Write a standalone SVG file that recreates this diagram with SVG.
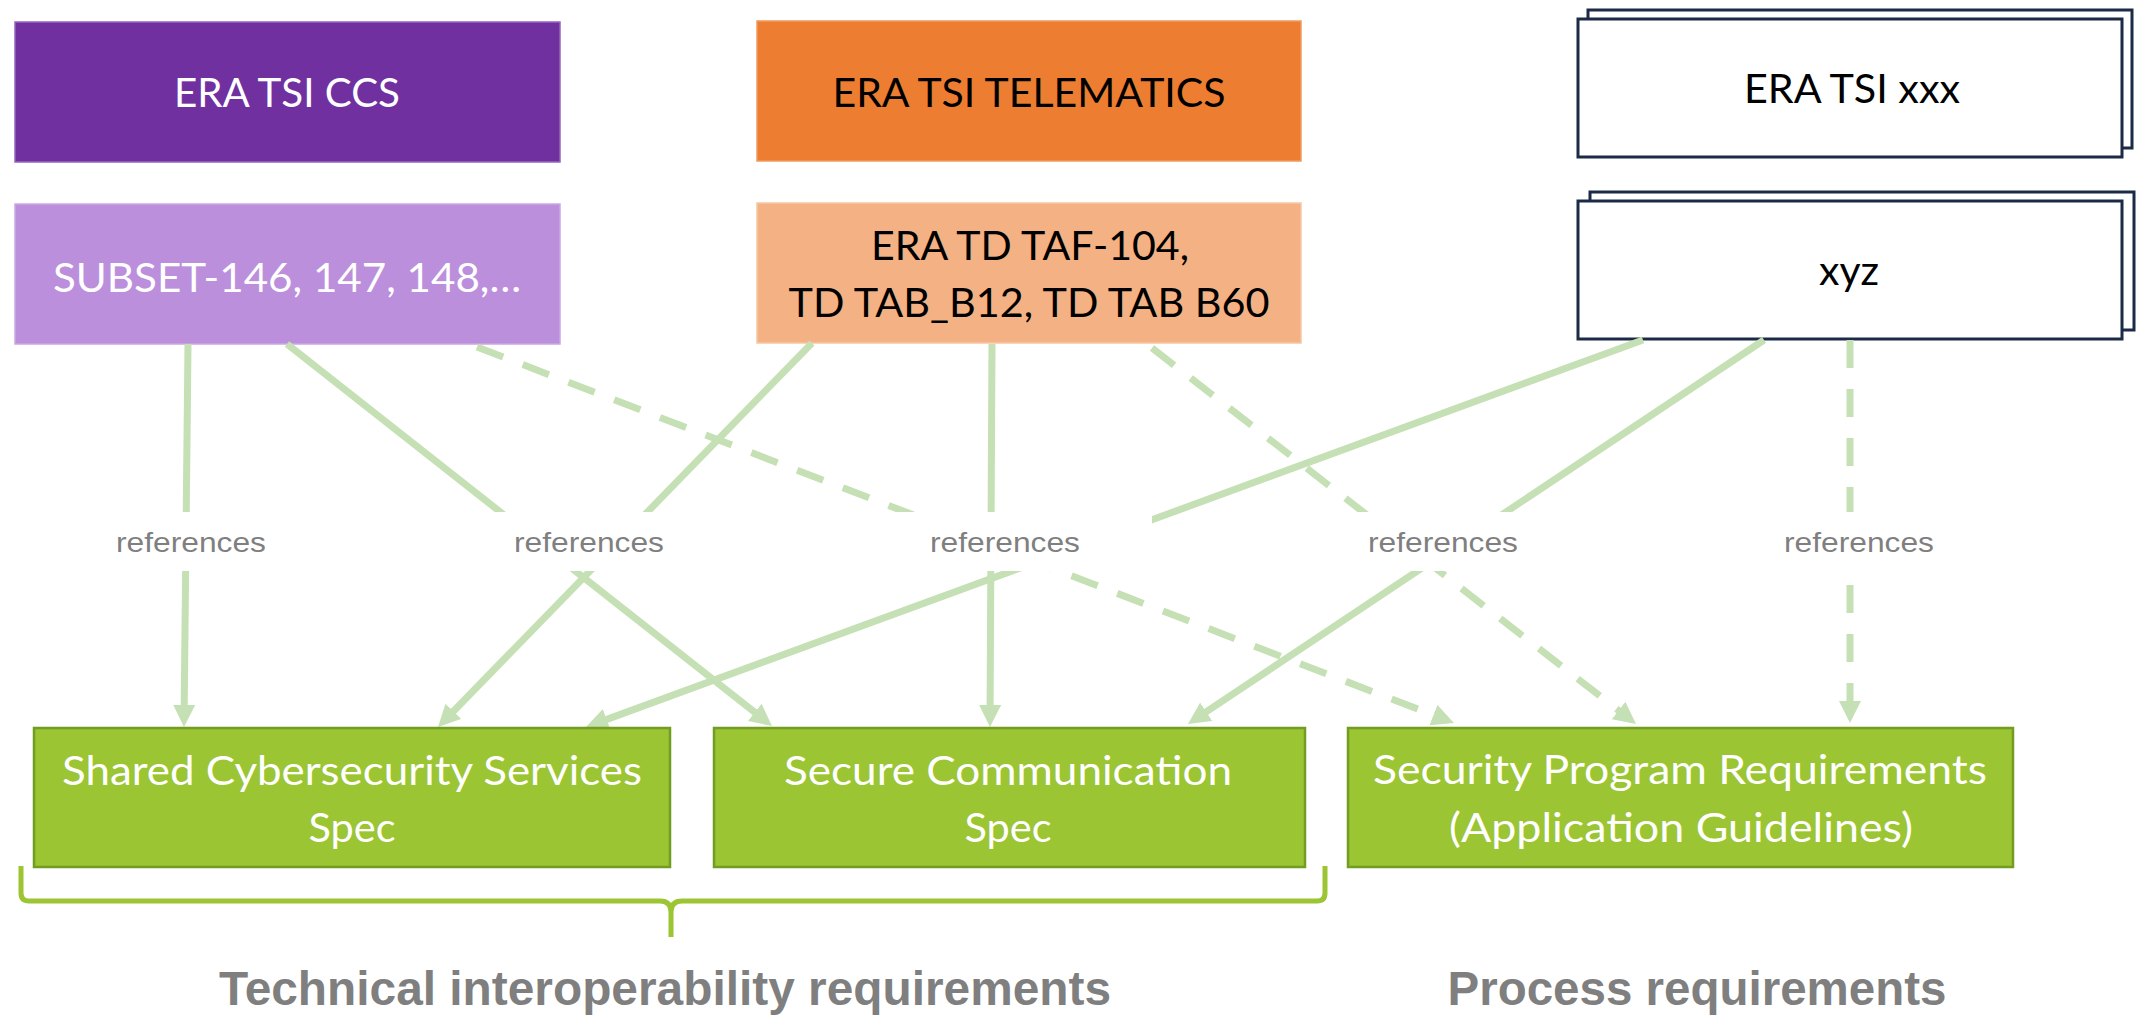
<svg xmlns="http://www.w3.org/2000/svg" width="2138" height="1022" viewBox="0 0 2138 1022">
<style>
.box{font-family:Lato,"Open Sans","Liberation Sans",sans-serif;font-size:40px;text-anchor:middle}
.w{fill:#FFFFFF}
.k{fill:#000000}
.lbl{font-family:"Liberation Sans",Arial,sans-serif;font-size:28px;fill:#7F7F7F;text-anchor:middle}
.foot{font-family:"Liberation Sans",Arial,sans-serif;font-size:48px;font-weight:bold;fill:#7F7F7F;text-anchor:middle}
.edge{fill:none;stroke:#C5E0B4;stroke-width:7}
.dash{stroke-dasharray:28 21}
.green{fill:#9BC532;stroke:#729C22;stroke-width:2.5}
.stack{fill:#FFFFFF;stroke:#1B2A47;stroke-width:3}
.lblbg{fill:#FFFFFF}
</style>
<defs>
<marker id="ah" markerUnits="userSpaceOnUse" markerWidth="22" markerHeight="22" viewBox="0 0 22 22" refX="2" refY="11" orient="auto">
<path d="M0,0 L22,11 L0,22 Z" fill="#C5E0B4"/>
</marker>
</defs>
<rect width="2138" height="1022" fill="#FFFFFF"/>

<g id="n-ccs">
<rect x="15" y="22" width="545" height="140" fill="#7030A0" stroke="#9466BC" stroke-width="1.5"/>
<text class="box w" x="287" y="107" textLength="226" lengthAdjust="spacingAndGlyphs">ERA TSI CCS</text>
</g>
<g id="n-subset">
<rect x="15" y="204" width="545" height="140" fill="#BC8FDC" stroke="#CBA8E5" stroke-width="1.5"/>
<text class="box w" x="287" y="292" textLength="468" lengthAdjust="spacingAndGlyphs">SUBSET-146, 147, 148,…</text>
</g>
<g id="n-telematics">
<rect x="757" y="21" width="544" height="140" fill="#ED7D31" stroke="#F09A5C" stroke-width="1.5"/>
<text class="box k" x="1029" y="107" textLength="393" lengthAdjust="spacingAndGlyphs">ERA TSI TELEMATICS</text>
</g>
<g id="n-td">
<rect x="757" y="203" width="544" height="140" fill="#F4B183" stroke="#F7C6A2" stroke-width="1.5"/>
<text class="box k" x="1030" y="260" textLength="318" lengthAdjust="spacingAndGlyphs">ERA TD TAF-104,</text>
<text class="box k" x="1029" y="317" textLength="481" lengthAdjust="spacingAndGlyphs">TD TAB_B12, TD TAB B60</text>
</g>
<g id="n-xxx">
<rect class="stack" x="1588" y="10" width="544" height="138"/>
<rect class="stack" x="1578" y="19" width="544" height="138"/>
<text class="box k" x="1852" y="103" textLength="216" lengthAdjust="spacingAndGlyphs">ERA TSI xxx</text>
</g>
<g id="n-xyz">
<rect class="stack" x="1590" y="192" width="544" height="138"/>
<rect class="stack" x="1578" y="201" width="544" height="138"/>
<text class="box k" x="1849" y="285" textLength="60" lengthAdjust="spacingAndGlyphs">xyz</text>
</g>

<g id="connectors">
<path class="edge" d="M188,344 L184.2,707" marker-end="url(#ah)"/>
<path class="edge" d="M287,344 L756.3,713.6" marker-end="url(#ah)"/>
<path class="edge dash" d="M477,347 L1435.3,715.8" marker-end="url(#ah)"/>
<path class="edge" d="M812,343 L452,712.7" marker-end="url(#ah)"/>
<path class="edge" d="M992,344 L990.1,707" marker-end="url(#ah)"/>
<path class="edge dash" d="M1152,348 L1620.2,711.7" marker-end="url(#ah)"/>
<path class="edge" d="M1643,340 L604.8,720.1" marker-end="url(#ah)"/>
<path class="edge" d="M1764,340 L1204.6,712.9" marker-end="url(#ah)"/>
<path class="edge dash" d="M1850,340 L1850,703" marker-end="url(#ah)"/>
</g>

<g id="labels">
<g id="l1"><rect class="lblbg" x="44" y="512" width="294" height="59"/><text class="lbl" x="191" y="552" textLength="150" lengthAdjust="spacingAndGlyphs">references</text></g>
<g id="l2"><rect class="lblbg" x="442" y="512" width="294" height="59"/><text class="lbl" x="589" y="552" textLength="150" lengthAdjust="spacingAndGlyphs">references</text></g>
<g id="l3"><rect class="lblbg" x="858" y="512" width="294" height="59"/><text class="lbl" x="1005" y="552" textLength="150" lengthAdjust="spacingAndGlyphs">references</text></g>
<g id="l4"><rect class="lblbg" x="1296" y="512" width="294" height="59"/><text class="lbl" x="1443" y="552" textLength="150" lengthAdjust="spacingAndGlyphs">references</text></g>
<g id="l5"><rect class="lblbg" x="1712" y="512" width="294" height="59"/><text class="lbl" x="1859" y="552" textLength="150" lengthAdjust="spacingAndGlyphs">references</text></g>
</g>

<g id="n-shared">
<rect class="green" x="34" y="728" width="636" height="139"/>
<text class="box w" style="font-size:41px" x="352" y="785" textLength="580" lengthAdjust="spacingAndGlyphs">Shared Cybersecurity Services</text>
<text class="box w" style="font-size:41px" x="352" y="842" textLength="87" lengthAdjust="spacingAndGlyphs">Spec</text>
</g>
<g id="n-securecomm">
<rect class="green" x="714" y="728" width="591" height="139"/>
<text class="box w" style="font-size:41px" x="1008" y="785" textLength="448" lengthAdjust="spacingAndGlyphs">Secure Communication</text>
<text class="box w" style="font-size:41px" x="1008" y="842" textLength="87" lengthAdjust="spacingAndGlyphs">Spec</text>
</g>
<g id="n-secprog">
<rect class="green" x="1348" y="728" width="665" height="139"/>
<text class="box w" style="font-size:41px" x="1680" y="784" textLength="614" lengthAdjust="spacingAndGlyphs">Security Program Requirements</text>
<text class="box w" style="font-size:41px" x="1681" y="842" textLength="464" lengthAdjust="spacingAndGlyphs">(Application Guidelines)</text>
</g>

<g id="bracket">
<path d="M21,866 L21,893 Q21,901 29,901 L660,901 Q671,901 671,912 L671,937 M671,912 Q671,901 682,901 L1317,901 Q1325,901 1325,893 L1325,866" fill="none" stroke="#9BC532" stroke-width="5"/>
</g>

<g id="captions">
<text class="foot" x="665" y="1005" textLength="892" lengthAdjust="spacingAndGlyphs">Technical interoperability requirements</text>
<text class="foot" x="1697" y="1005" textLength="499" lengthAdjust="spacingAndGlyphs">Process requirements</text>
</g>
</svg>
